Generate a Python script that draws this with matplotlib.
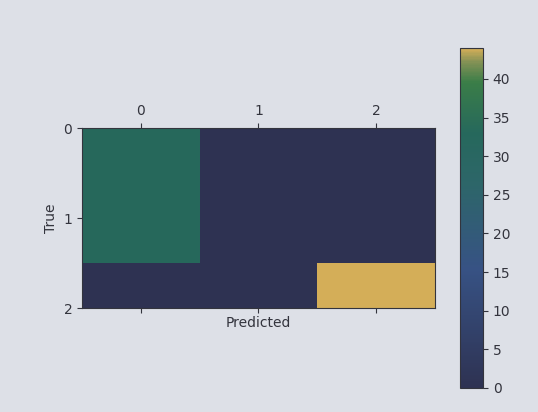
import numpy as np
import matplotlib
matplotlib.use("Agg")
import matplotlib.pyplot as plt
from matplotlib.colors import LinearSegmentedColormap

# Data
row_labels = ["0", "1", "2"]
col_labels = ["0", "1", "2"]
conf_matrix = [
    [33, 0, 0],
    [33, 0, 0],
    [0, 0, 44],
]
cbar_ticks = [0, 5, 10, 15, 20, 25, 30, 35, 40]

# Colormap approximating the photographed viridis-like map
cmap = LinearSegmentedColormap.from_list(
    "photo",
    [
        (0.00, (46/255, 50/255, 82/255)),
        (0.35, (55/255, 82/255, 132/255)),
        (0.60, (45/255, 102/255, 105/255)),
        (0.75, (38/255, 104/255, 92/255)),
        (0.90, (58/255, 125/255, 72/255)),
        (0.96, (130/255, 145/255, 85/255)),
        (1.00, (212/255, 174/255, 88/255)),
    ],
)

text_color = "#33343d"
bg = "#dde0e7"

fig = plt.figure(figsize=(5.38, 4.12), dpi=100, facecolor=bg)

ax = fig.add_axes([0.1524, 0.2524, 0.656, 0.4369])
im = ax.matshow(np.array(conf_matrix), cmap=cmap, vmin=0, vmax=44, aspect="auto")
ax.set_ylim(2, 0)
ax.set_xticks(range(len(col_labels)))
ax.set_xticklabels(col_labels)
ax.set_yticks(range(len(row_labels)))
ax.set_yticklabels(row_labels)
ax.tick_params(colors=text_color, labelsize=10)
ax.set_xlabel("Predicted", color=text_color, fontsize=10, labelpad=2)
ax.set_ylabel("True", color=text_color, fontsize=10)
for s in ax.spines.values():
    s.set_color(text_color)

cax = fig.add_axes([0.855, 0.0583, 0.0428, 0.825])
cb = fig.colorbar(im, cax=cax)
cb.set_ticks(cbar_ticks)
cb.ax.tick_params(colors=text_color, labelsize=10)
cb.outline.set_edgecolor(text_color)

fig.savefig("out.png", dpi=100, facecolor=bg)
